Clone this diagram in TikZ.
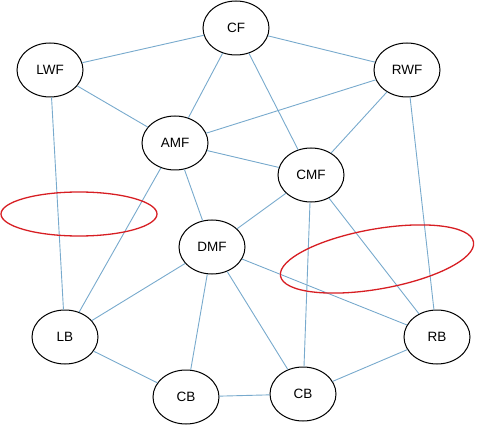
\documentclass[tikz,border=0pt]{standalone}
\usepackage{fontspec}
\setmainfont{Liberation Sans}
\usetikzlibrary{shapes.geometric}
\definecolor{linkblue}{RGB}{120,170,205}
\definecolor{markred}{RGB}{215,30,35}
\begin{document}
\begin{tikzpicture}[
  x=1pt, y=-1pt,
  player/.style={ellipse, draw=black, line width=1pt, fill=white, minimum width=66pt, minimum height=54pt, inner sep=0pt, font=\fontsize{13.5}{15}\selectfont},
  link/.style={draw=linkblue, line width=0.9pt},
  gapmark/.style={draw=markred, line width=1.3pt}
]
\useasboundingbox (0,0) rectangle (477,425);

% Forwards
\node[player] (cf) at (236,28) {CF};
\node[player] (lwf) at (50,70) {LWF};
\node[player] (rwf) at (407,70) {RWF};

% Midfield
\node[player] (amf) at (175,143) {AMF};
\node[player] (cmf) at (311,175) {CMF};
\node[player] (dmf) at (212,247) {DMF};

% Backs
\node[player] (lb) at (65,337) {LB};
\node[player] (rb) at (437,337) {RB};
\node[player] (cbl) at (186,397) {CB};
\node[player] (cbr) at (303,394) {CB};

% Links
\draw[link] (cf) -- (lwf);
\draw[link] (cf) -- (rwf);
\draw[link] (cf) -- (amf);
\draw[link] (cf) -- (cmf);
\draw[link] (lwf) -- (amf);
\draw[link] (lwf) -- (lb);
\draw[link] (rwf) -- (amf);
\draw[link] (rwf) -- (cmf);
\draw[link] (rwf) -- (rb);
\draw[link] (amf) -- (cmf);
\draw[link] (amf) -- (dmf);
\draw[link] (amf) -- (lb);
\draw[link] (cmf) -- (dmf);
\draw[link] (cmf) -- (cbr);
\draw[link] (cmf) -- (rb);
\draw[link] (dmf) -- (lb);
\draw[link] (dmf) -- (cbl);
\draw[link] (dmf) -- (cbr);
\draw[link] (dmf) -- (rb);
\draw[link] (lb) -- (cbl);
\draw[link] (cbl) -- (cbr);
\draw[link] (cbr) -- (rb);

% Marked gaps
\draw[gapmark] (79,214) ellipse [x radius=78pt, y radius=22pt];
\draw[gapmark, rotate around={10:(377,259)}] (377,259) ellipse [x radius=98pt, y radius=30pt];
\end{tikzpicture}
\end{document}
